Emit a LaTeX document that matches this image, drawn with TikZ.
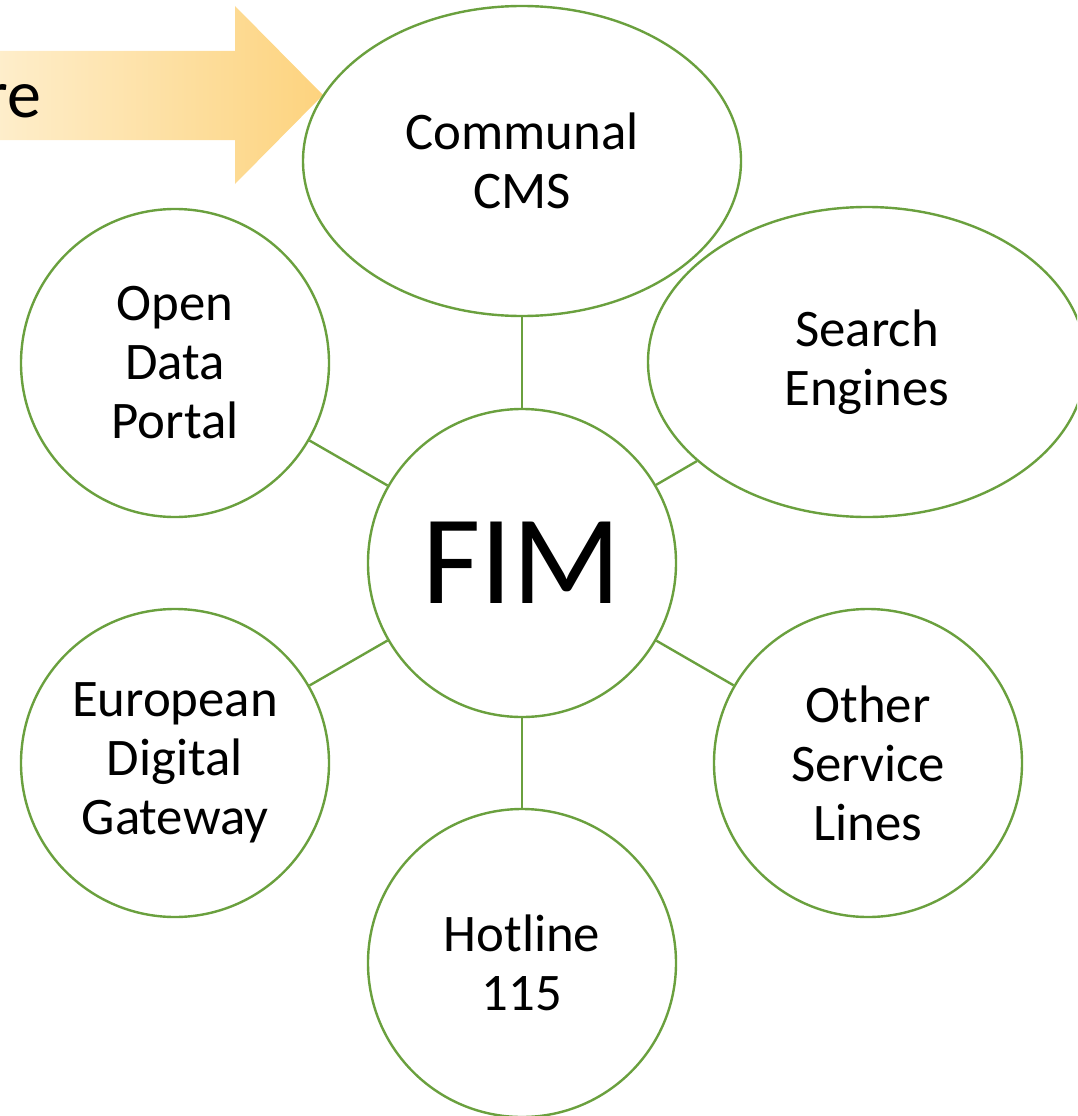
\documentclass[tikz,border=0pt]{standalone}
\usepackage{fontspec}
\setmainfont{Carlito}
\usetikzlibrary{shapes.geometric}
\definecolor{fimgreen}{RGB}{106,160,62}
\definecolor{arrowlight}{RGB}{254,241,212}
\definecolor{arrowdark}{RGB}{253,211,126}
\tikzset{
  bubble/.style={circle, draw=fimgreen, line width=2.4pt, fill=white, minimum size=308pt, inner sep=0pt, align=center,
    font=\fontsize{52.8}{59}\selectfont},
  oval/.style={ellipse, draw=fimgreen, line width=2.4pt, fill=white, minimum width=438pt, minimum height=310pt, inner sep=0pt, align=center,
    font=\fontsize{52.8}{59}\selectfont},
  link/.style={draw=fimgreen, line width=2.4pt}
}
\begin{document}
\begin{tikzpicture}[x=1pt,y=-1pt]
\useasboundingbox (0,0) rectangle (1077,1116);
\clip (0,0) rectangle (1077,1116);
% arrow
\shade[left color=arrowlight, right color=arrowdark]
  (-40,51) -- (235,51) -- (235,6) -- (323,95) -- (235,184) -- (235,140) -- (-40,140) -- cycle;
\node[anchor=base east, font=\fontsize{68}{80}\selectfont, inner sep=0pt] (arrowtext) at (41,117) {re};
% nodes
\node[oval] (cms) at (522,161) {Communal\\CMS};
\node[oval] (se) at (867,362) {Search\\Engines};
\node[bubble] (odp) at (175,363) {Open\\Data\\Portal};
\node[bubble] (edg) at (175,763) {European\\Digital\\Gateway};
\node[bubble] (osl) at (868,763) {Other\\Service\\Lines};
\node[bubble] (hot) at (522,963) {Hotline\\115};
\node[bubble, font=\fontsize{127}{140}\selectfont] (fim) at (522,563) {FIM};
% connectors
\draw[link] (fim) -- (cms);
\draw[link] (fim) -- (se);
\draw[link] (fim) -- (odp);
\draw[link] (fim) -- (edg);
\draw[link] (fim) -- (osl);
\draw[link] (fim) -- (hot);
\end{tikzpicture}
\end{document}
